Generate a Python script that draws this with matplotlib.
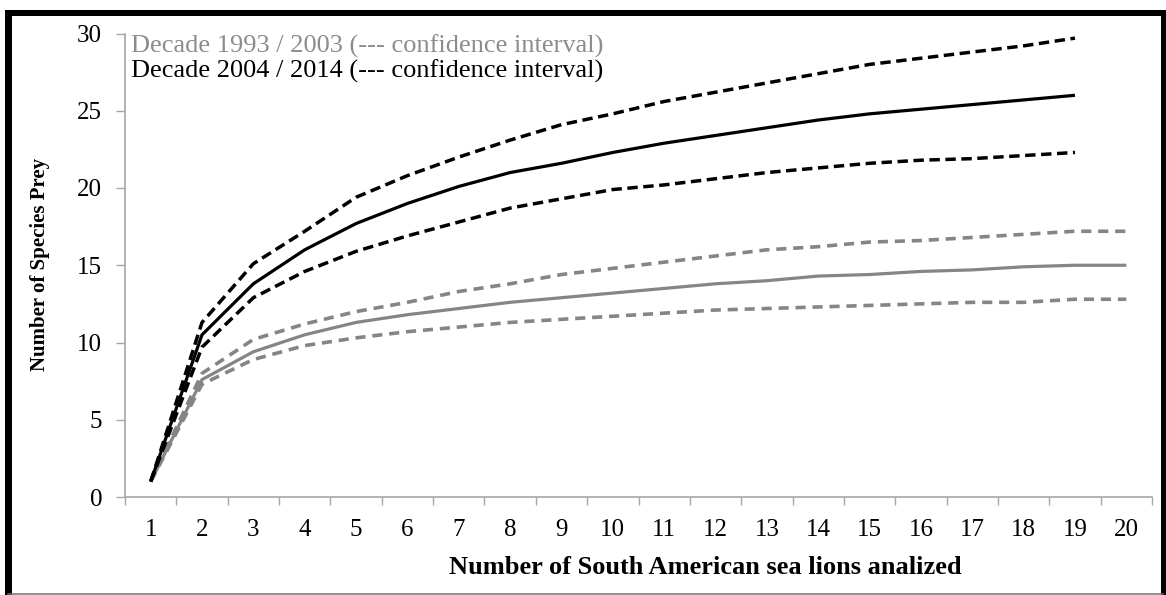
import matplotlib
matplotlib.use("Agg")
import matplotlib.pyplot as plt
from matplotlib.lines import Line2D

# Number of sea lions analysed (category axis)
samples = list(range(1, 21))

# Decade 2004 / 2014 (ends at 19 individuals)
recent_mean = [1, 10.5, 13.8, 16.0, 17.7, 19.0, 20.1, 21.0, 21.6, 22.3,
               22.9, 23.4, 23.9, 24.4, 24.8, 25.1, 25.4, 25.7, 26.0]
recent_upper = [1, 11.3, 15.1, 17.2, 19.4, 20.8, 22.0, 23.1, 24.1, 24.8,
                25.6, 26.2, 26.8, 27.4, 28.0, 28.4, 28.8, 29.2, 29.7]
recent_lower = [1, 9.7, 12.9, 14.6, 15.9, 16.9, 17.8, 18.7, 19.3, 19.9,
                20.2, 20.6, 21.0, 21.3, 21.6, 21.8, 21.9, 22.1, 22.3]

# Decade 1993 / 2003
early_mean = [1, 7.6, 9.4, 10.5, 11.3, 11.8, 12.2, 12.6, 12.9, 13.2,
              13.5, 13.8, 14.0, 14.3, 14.4, 14.6, 14.7, 14.9, 15.0, 15.0]
early_upper = [1, 8.0, 10.2, 11.2, 12.0, 12.6, 13.3, 13.8, 14.4, 14.8,
               15.2, 15.6, 16.0, 16.2, 16.5, 16.6, 16.8, 17.0, 17.2, 17.2]
early_lower = [1, 7.3, 8.9, 9.8, 10.3, 10.7, 11.0, 11.3, 11.5, 11.7,
               11.9, 12.1, 12.2, 12.3, 12.4, 12.5, 12.6, 12.6, 12.8, 12.8]

y_ticks = [0, 5, 10, 15, 20, 25, 30]

W, H, DPI = 1166, 595, 100
SERIF = ["Liberation Serif", "DejaVu Serif"]
GRAY = "#858585"
AXIS = "#a6a6a6"

plt.rcParams["font.family"] = SERIF

fig = plt.figure(figsize=(W / DPI, H / DPI), dpi=DPI)
fig.patch.set_facecolor("white")

ax_l, ax_r, ax_t, ax_b = 125, 1152, 33.5, 497
ax = fig.add_axes([ax_l / W, 1 - ax_b / H, (ax_r - ax_l) / W, (ax_b - ax_t) / H])

x_recent = samples[:len(recent_mean)]
x_early = samples[:len(early_mean)]

dash_black = (0, (3.0, 1.6))
dash_gray = (0, (2.8, 1.9))

ax.plot(x_early, early_upper, color=GRAY, lw=2.6, linestyle=dash_gray, dash_capstyle="butt")
ax.plot(x_early, early_lower, color=GRAY, lw=2.6, linestyle=dash_gray, dash_capstyle="butt")
ax.plot(x_early, early_mean, color=GRAY, lw=2.3, solid_capstyle="butt")

ax.plot(x_recent, recent_upper, color="black", lw=2.5, linestyle=dash_black, dash_capstyle="butt")
ax.plot(x_recent, recent_lower, color="black", lw=2.5, linestyle=dash_black, dash_capstyle="butt")
ax.plot(x_recent, recent_mean, color="black", lw=2.3, solid_capstyle="butt")

ax.set_xlim(0.5, len(samples) + 0.5)
ax.set_ylim(0, 30)

# Category axis: tick marks between categories, labels centred on them
ax.set_xticks([i + 0.5 for i in range(0, len(samples) + 1)])
ax.set_xticklabels([])
ax.set_xticks(samples, minor=True)
ax.set_xticklabels([str(s) for s in samples], minor=True)
ax.tick_params(axis="x", which="major", direction="out", length=6, width=1, color=AXIS)
ax.tick_params(axis="x", which="minor", length=0, pad=16, labelsize=18, labelcolor="black")

ax.set_yticks(y_ticks)
ax.set_yticklabels([str(v) for v in y_ticks])
ax.tick_params(axis="y", direction="out", length=6.5, width=1, color=AXIS,
               pad=10, labelsize=18, labelcolor="black")

for side in ("top", "right"):
    ax.spines[side].set_visible(False)
for side in ("left", "bottom"):
    ax.spines[side].set_color(AXIS)
    ax.spines[side].set_linewidth(1.2)

# Legend as two lines of text
ax.text(131 / W, 1 - 46 / H, "Decade 1993 / 2003 (--- confidence interval)",
        transform=fig.transFigure, color="#8c8c8c", fontsize=19, va="center", ha="left")
ax.text(131 / W, 1 - 71 / H, "Decade 2004 / 2014 (--- confidence interval)",
        transform=fig.transFigure, color="black", fontsize=19, va="center", ha="left")

fig.text(40 / W, 1 - 264 / H, "Number of Species Prey", rotation=90,
         fontsize=15, fontweight="bold", ha="center", va="center")
fig.text(705 / W, 1 - 567 / H, "Number of South American sea lions analized",
         fontsize=19, fontweight="bold", ha="center", va="center")

# Outer frame
def fline(x0, y0, x1, y1, color, lw_px):
    fig.add_artist(Line2D([x0 / W, x1 / W], [1 - y0 / H, 1 - y1 / H],
                          transform=fig.transFigure, color=color,
                          lw=lw_px * 72 / DPI, solid_capstyle="projecting"))

fline(7.5, 13, 1162.5, 13, "black", 6)
fline(7.5, 13, 7.5, 594, "black", 7)
fline(1162.5, 13, 1162.5, 594, "black", 5)
fline(7.5, 594, 1162.5, 594, "#6e6e6e", 1.5)

fig.savefig("out.png", dpi=DPI, facecolor="white")
